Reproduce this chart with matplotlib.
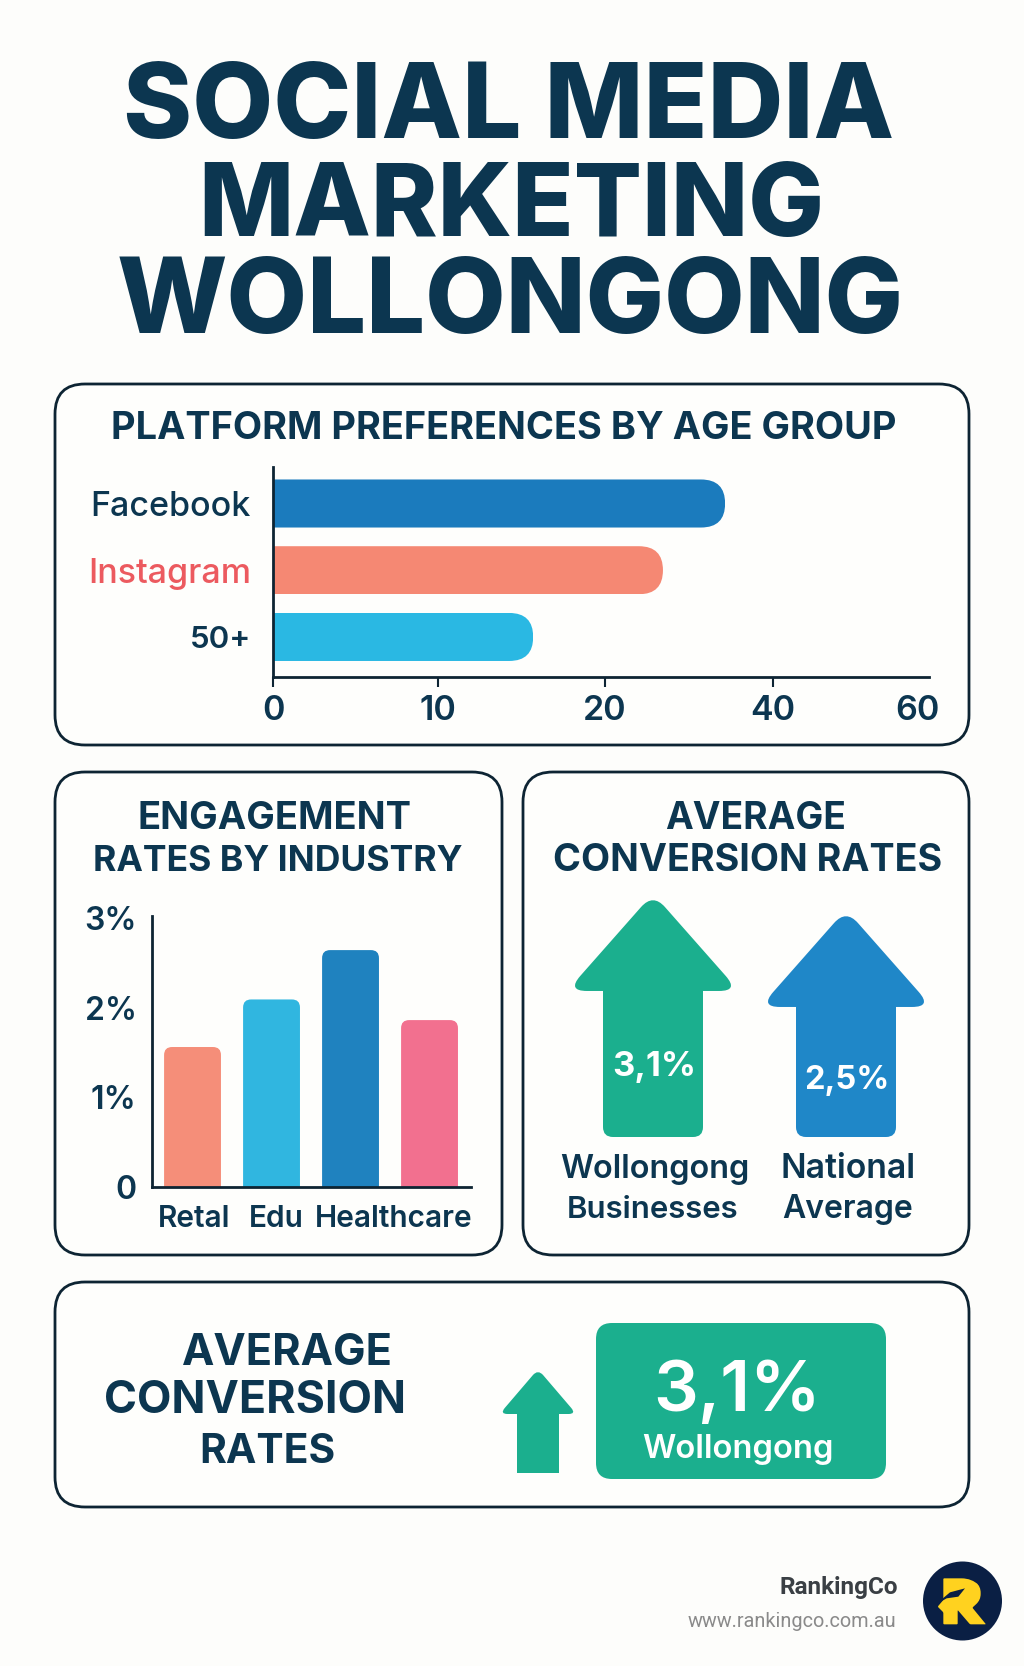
import matplotlib
matplotlib.use("Agg")
import matplotlib.pyplot as plt
from matplotlib.patches import FancyBboxPatch, PathPatch, Circle
from matplotlib.path import Path
from matplotlib.transforms import IdentityTransform
import numpy as np

W, H = 1024, 1666
BG = "#FDFDFB"
NAVY = "#0C3650"
DARK = "#0D2433"
GREEN = "#1BAF8E"
BLUE = "#1F87C8"

title_lines = ["SOCIAL MEDIA", "MARKETING", "WOLLONGONG"]

platform_title = "PLATFORM PREFERENCES BY AGE GROUP"
platform_labels = ["Facebook", "Instagram", "50+"]
platform_values = [34.3, 26.9, 15.7]
platform_colors = ["#1B7BBD", "#F58873", "#2AB8E3"]
platform_label_colors = [NAVY, "#EC5A5F", NAVY]
platform_ticks = [0, 10, 20, 40, 60]

engage_title = ["ENGAGEMENT", "RATES BY INDUSTRY"]
engage_labels = ["Retal", "Edu", "Healthcare"]
engage_values = [1.56, 2.09, 2.64, 1.86]
engage_colors = ["#F58E79", "#30B6E0", "#1F82BF", "#F2708F"]
engage_ticks = [0, 1, 2, 3]
engage_ticklabels = ["0", "1%", "2%", "3%"]

conv_title = ["AVERAGE", "CONVERSION RATES"]
conv_values = [3.1, 2.5]
conv_value_labels = ["3,1%", "2,5%"]
conv_colors = [GREEN, BLUE]

HEAD = "Inter"
BODY = "Inter"

fig = plt.figure(figsize=(W / 100, H / 100), dpi=100, facecolor=BG)
bg = fig.add_axes([0, 0, 1, 1])
bg.set_xlim(0, W)
bg.set_ylim(H, 0)
bg.axis("off")
renderer = fig.canvas.get_renderer()


def put(s, xc, base, width, color=NAVY, weight="bold", family=HEAD, zorder=6):
    # size the text so it spans the measured width
    t = bg.text(xc, base, s, ha="center", va="baseline", color=color,
                fontweight=weight, family=family, fontsize=20, zorder=zorder)
    w = t.get_window_extent(renderer).width
    t.set_fontsize(20 * width / w)
    return t


def panel(l, t, r, b):
    bg.add_patch(FancyBboxPatch((l, t), r - l, b - t, boxstyle="round,pad=0,rounding_size=30",
                                mutation_scale=1, fc="#FEFEFC", ec=DARK, lw=2, zorder=1))


def rounded_poly(pts, radii):
    verts, codes = [], []
    n = len(pts)
    for i in range(n):
        p = np.array(pts[i], float)
        a = np.array(pts[i - 1], float)
        c = np.array(pts[(i + 1) % n], float)
        r = radii[i]
        p1 = p + (a - p) / np.linalg.norm(a - p) * r
        p2 = p + (c - p) / np.linalg.norm(c - p) * r
        verts.append(p1)
        codes.append(Path.MOVETO if i == 0 else Path.LINETO)
        verts += [p, p2]
        codes += [Path.CURVE3, Path.CURVE3]
    verts.append(verts[0])
    codes.append(Path.CLOSEPOLY)
    return Path(verts, codes)


def arrow(xc, tip, bottom, head_w, shaft_w, head_h, color, r_tip=18, r_head=20, r_foot=10):
    # corners get cut by the rounding, so the sharp outline sits a bit outside
    tip = tip - r_tip * 0.36
    base = tip + head_h + r_tip * 0.36
    head_w = head_w + r_head * 0.3
    pts = [(xc, tip), (xc + head_w, base), (xc + shaft_w, base), (xc + shaft_w, bottom),
           (xc - shaft_w, bottom), (xc - shaft_w, base), (xc - head_w, base)]
    radii = [r_tip, r_head, 0.01, r_foot, r_foot, 0.01, r_head]
    bg.add_patch(PathPatch(rounded_poly(pts, radii), fc=color, ec="none", zorder=3))


def axes_px(l, t, r, b):
    ax = fig.add_axes([l / W, 1 - b / H, (r - l) / W, (b - t) / H])
    ax.patch.set_alpha(0)
    return ax


def round_bar(bar, radius, horizontal):
    # bar stays a real bar, only its free end gets clipped round
    bb = bar.get_window_extent(renderer)
    if horizontal:
        box = (bb.x0 - 2 * radius, bb.y0, bb.width + 2 * radius, bb.height)
    else:
        box = (bb.x0, bb.y0 - 2 * radius, bb.width, bb.height + 2 * radius)
    clip = FancyBboxPatch(box[:2], box[2], box[3], boxstyle="round,pad=0,rounding_size=%g" % radius,
                          mutation_scale=1, transform=IdentityTransform())
    bar.set_clip_path(clip)


# title
put(title_lines[0], 509, 138, 772, weight=800)
put(title_lines[1], 511, 236, 628, weight=800)
put(title_lines[2], 510, 333, 790, weight=800)

panel(55, 384, 969, 745)
panel(55, 772, 502, 1255)
panel(523, 772, 969, 1255)
panel(55, 1282, 969, 1507)

# platform chart, the tick spacing in the picture is not linear
knots = [0, 10, 20, 40, 60, 62]
knot_pos = [0, 165, 332, 500, 644, 656]
put(platform_title, 504, 439, 786)
ax1 = axes_px(273, 467, 929, 677)
ax1.set_xscale("function", functions=(lambda v: np.interp(v, knots, knot_pos),
                                      lambda p: np.interp(p, knot_pos, knots)))
ax1.set_xlim(0, 62)
ax1.set_ylim(2.6, -0.547)
bars1 = ax1.barh(range(3), platform_values, height=0.72, color=platform_colors, zorder=2)
for s in ["top", "right"]:
    ax1.spines[s].set_visible(False)
for s in ["left", "bottom"]:
    ax1.spines[s].set_linewidth(2)
    ax1.spines[s].set_color(DARK)
    ax1.spines[s].set_zorder(5)
ax1.set_xticks(platform_ticks)
ax1.set_xticklabels([str(v) for v in platform_ticks], fontsize=24.5, family=BODY, fontweight="semibold", color=NAVY)
ax1.tick_params(axis="x", length=7, width=1.5, color=DARK, pad=6)
ax1.xaxis.get_major_ticks()[-1].tick1line.set_visible(False)
ax1.set_yticks(range(3))
ax1.set_yticklabels(platform_labels, fontsize=24.5, family=BODY, fontweight="medium")
ax1.tick_params(axis="y", length=0, pad=16)
for lab, c in zip(ax1.get_yticklabels(), platform_label_colors):
    lab.set_color(c)
ax1.get_yticklabels()[2].set_fontweight("semibold")
ax1.get_yticklabels()[2].set_fontsize(22.5)
for b in bars1:
    round_bar(b, 24, True)

# engagement chart
put(engage_title[0], 274, 829, 275)
put(engage_title[1], 278, 871, 370)
ax2 = axes_px(152, 916, 471, 1187)
ax2.set_xlim(-0.513, 3.525)
ax2.set_ylim(0, 3.02)
bars2 = ax2.bar(range(4), engage_values, width=0.72, color=engage_colors, zorder=2)
for s in ["top", "right"]:
    ax2.spines[s].set_visible(False)
for s in ["left", "bottom"]:
    ax2.spines[s].set_linewidth(2)
    ax2.spines[s].set_color(DARK)
    ax2.spines[s].set_zorder(5)
ax2.set_yticks(engage_ticks)
ax2.set_yticklabels(engage_ticklabels, fontsize=23, family=BODY, fontweight="semibold", color=NAVY)
ax2.tick_params(axis="y", length=0, pad=11)
# the labels sit off the bars in the picture and the last bar has none
ax2.set_xticks([0.02, 1.06, 2.55])
ax2.set_xticklabels(engage_labels, fontsize=21.5, family=BODY, fontweight="semibold", color=NAVY)
ax2.tick_params(axis="x", length=0, pad=13)
for b in bars2:
    round_bar(b, 8, False)

# conversion arrows, heights come from the values on a hidden axis
put(conv_title[0], 756, 829, 181)
put(conv_title[1], 748, 871, 389)
ax3 = axes_px(523, 772, 968, 1137)
ax3.set_xlim(-130 / 193, 315 / 193)
ax3.set_ylim(-5.79, 7.9)
ax3.axis("off")
for i, v in enumerate(conv_values):
    x, y = ax3.transData.transform((i, v))
    arrow(x, H - y, 1137, 80, 50, 91, conv_colors[i])
put(conv_value_labels[0], 654, 1076, 84, color="white", weight="bold", family=BODY)
put(conv_value_labels[1], 847, 1089, 85, color="white", weight="bold", family=BODY)
put("Wollongong", 655, 1178, 190, weight="semibold", family=BODY)
put("Businesses", 653, 1218, 172, weight="semibold", family=BODY)
put("National", 848, 1178, 135, weight="semibold", family=BODY)
put("Average", 848, 1218, 131, weight="semibold", family=BODY)

# bottom panel
put("AVERAGE", 287, 1365, 211)
put("CONVERSION", 255, 1413, 302)
put("RATES", 267, 1463, 136)
arrow(538, 1372, 1473, 36, 21, 42, GREEN, r_tip=8, r_head=8, r_foot=0.01)
bg.add_patch(FancyBboxPatch((596, 1323), 290, 156, boxstyle="round,pad=0,rounding_size=16",
                            mutation_scale=1, fc=GREEN, ec="none", zorder=3))
put("3,1%", 737, 1411, 168, color="white", weight="semibold", family=BODY)
put("Wollongong", 738, 1458, 192, color="white", weight="semibold", family=BODY)

# footer
put("RankingCo", 839, 1594, 118, color="#3A3F44", weight="bold", family="Roboto")
put("www.rankingco.com.au", 792, 1627, 209, color="#8A8A8A", weight="normal", family="Roboto")
bg.add_patch(Circle((962.5, 1601), 39.5, fc="#0A1F44", ec="none", zorder=3))
z = lambda px, py: (915 + px / 3, 1555 + py / 3)
r_pts = [z(*p) for p in [(85, 70), (170, 70), (197, 95), (197, 135), (172, 158), (213, 208), (165, 208),
                         (128, 165), (128, 208), (85, 208), (85, 172), (68, 155), (85, 135)]]
r_rad = [1, 10, 6, 6, 1, 1, 1, 1, 1, 1, 1, 1, 1]
bg.add_patch(PathPatch(rounded_poly(r_pts, r_rad), fc="#FFD21F", ec="none", zorder=4))
sw_pts = [(60, 150), (105, 112), (150, 100), (130, 125), (95, 130)]
bg.add_patch(PathPatch(Path([z(*p) for p in sw_pts] + [z(*sw_pts[0])]), fc="#0A1F44", ec="none", zorder=5))

fig.savefig("out.png", dpi=100, facecolor=BG)
